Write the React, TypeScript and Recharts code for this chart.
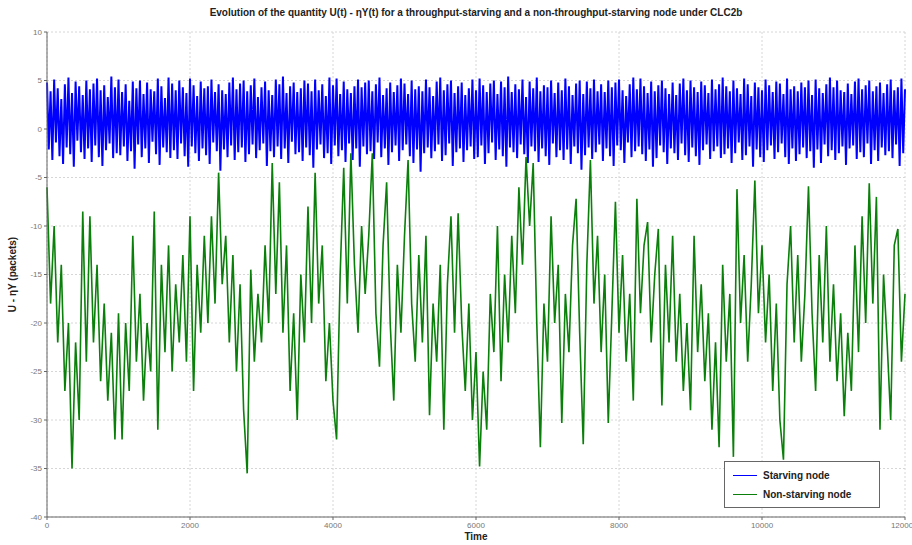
import React from 'react';
import { LineChart, Line, XAxis, YAxis, CartesianGrid } from 'recharts';

const starvingStep = 25;
const starving = [
  4.8, -2.1, 3.9, -3.2, 5.1, -1.4, 4.2, -2.8, 3.1, -3.6,
  4.6, -1.9, 5.3, -2.6, 3.7, -3.9, 4.9, -1.2, 4.4, -2.4,
  3.5, -3.1, 5.0, -2.0, 4.1, -3.4, 4.7, -1.7, 5.2, -2.9,
  4.0, -3.8, 4.5, -2.2, 3.3, -1.5, 5.4, -3.0, 4.3, -2.5,
  5.1, -2.7, 3.8, -1.8, 4.6, -3.3, 2.9, -2.3, 4.9, -4.1,
  4.2, -1.6, 5.0, -2.9, 3.6, -2.0, 4.8, -3.5, 4.1, -1.3,
  3.9, -2.6, 5.2, -3.7, 4.4, -1.9, 3.2, -2.4, 5.3, -3.0,
  4.7, -2.2, 4.0, -3.1, 5.0, -1.5, 4.3, -2.8, 3.7, -3.9,
  5.2, -1.8, 4.5, -2.5, 3.4, -3.3, 4.9, -2.0, 4.2, -2.7,
  4.4, -3.6, 5.1, -1.4, 3.8, -2.3, 4.6, -4.3, 4.0, -2.1,
  3.6, -2.9, 4.8, -1.7, 5.3, -3.2, 4.1, -2.4, 4.7, -1.9,
  5.0, -3.4, 3.9, -2.6, 4.5, -1.6, 5.2, -3.0, 3.3, -2.2,
  4.3, -1.5, 4.9, -3.8, 4.0, -2.3, 3.5, -2.9, 5.1, -1.8,
  4.6, -3.1, 5.4, -2.0, 3.7, -3.5, 4.4, -1.3, 4.8, -2.6,
  3.8, -2.4, 4.2, -3.3, 5.0, -1.9, 4.7, -2.7, 3.9, -4.0,
  5.1, -2.1, 4.0, -1.6, 4.6, -3.0, 3.4, -2.5, 5.3, -3.6,
  4.5, -1.7, 5.2, -2.8, 3.6, -2.2, 4.9, -3.4, 4.1, -1.5,
  3.7, -3.2, 4.4, -2.0, 5.1, -3.9, 4.3, -1.8, 4.8, -2.6,
  5.0, -2.3, 3.9, -3.1, 4.6, -1.4, 5.3, -2.9, 3.5, -2.0,
  4.2, -3.7, 4.8, -2.4, 3.8, -1.7, 4.5, -3.3, 5.2, -2.2,
  4.7, -1.6, 3.6, -2.8, 5.0, -3.5, 4.1, -2.1, 4.4, -4.4,
  3.9, -2.5, 5.1, -1.9, 4.3, -3.0, 3.4, -2.3, 4.9, -1.6,
  5.3, -3.3, 4.0, -2.7, 4.6, -1.5, 5.0, -3.8, 3.7, -2.4,
  4.4, -2.0, 4.8, -3.4, 3.5, -2.2, 4.2, -1.8, 5.1, -3.1,
  4.0, -2.9, 5.2, -1.7, 4.5, -3.6, 3.8, -2.5, 4.7, -1.4,
  5.0, -3.2, 3.6, -2.1, 4.9, -2.8, 4.3, -3.9, 5.4, -1.9,
  3.8, -2.4, 4.6, -3.0, 4.1, -1.6, 5.1, -2.6, 3.3, -3.5,
  4.9, -1.8, 4.2, -2.3, 5.3, -3.4, 3.9, -2.0, 4.5, -2.8,
  4.3, -3.7, 5.0, -1.5, 3.7, -2.9, 4.8, -2.2, 4.0, -3.2,
  5.2, -2.1, 4.4, -3.6, 3.5, -1.8, 4.7, -2.5, 5.0, -4.2,
  3.6, -2.7, 4.9, -1.9, 4.2, -3.1, 5.1, -2.4, 3.9, -1.6,
  4.6, -3.3, 3.8, -2.0, 5.0, -2.8, 4.3, -3.8, 4.8, -1.7,
  5.1, -2.2, 4.0, -3.5, 3.4, -1.4, 4.6, -2.9, 5.3, -2.3,
  4.1, -1.8, 5.2, -2.6, 4.4, -3.3, 3.7, -2.1, 4.9, -3.9,
  3.9, -3.0, 4.5, -1.7, 5.0, -2.4, 4.2, -3.6, 3.6, -2.0,
  4.8, -2.5, 3.5, -3.2, 4.7, -1.5, 5.2, -2.7, 4.0, -3.4,
  5.0, -1.9, 4.3, -2.8, 3.8, -3.7, 4.9, -2.2, 4.5, -1.6,
  3.7, -3.1, 5.1, -2.3, 4.1, -1.8, 4.6, -3.0, 5.3, -2.6,
  4.4, -2.0, 3.9, -3.5, 5.0, -2.5, 4.2, -1.4, 3.6, -3.2,
  5.2, -2.7, 4.6, -1.8, 3.4, -3.9, 4.8, -2.1, 4.3, -2.9,
  4.0, -3.4, 5.1, -2.2, 4.5, -1.7, 3.8, -3.1, 4.9, -2.4,
  4.7, -1.5, 3.6, -2.9, 5.2, -3.6, 4.1, -2.0, 4.4, -3.3,
  3.9, -2.6, 4.8, -1.9, 4.3, -3.0, 5.0, -2.3, 3.5, -4.0,
  5.1, -2.1, 4.2, -3.5, 3.7, -1.6, 4.6, -2.8, 5.3, -2.2,
  4.3, -3.2, 5.0, -2.5, 4.0, -1.8, 3.8, -3.7, 4.7, -2.0,
  3.6, -1.7, 4.9, -3.1, 5.2, -2.4, 4.1, -2.9, 4.5, -1.5,
  5.0, -3.6, 3.9, -2.2, 4.4, -3.3, 4.8, -1.9, 3.7, -2.7,
  4.6, -2.3, 5.1, -3.0, 4.0, -1.6, 4.3, -3.8, 5.2, -2.5,
  4.1,
];

const nonStarvingStep = 50;
const nonStarving = [
  -6, -18, -10, -22, -14, -27, -20, -35, -22, -30,
  -8.5, -24, -9, -22, -14, -26, -18, -28, -21, -32,
  -19, -32, -20, -27, -11, -24, -17, -28, -20, -25,
  -8.5, -31, -14, -23, -12, -25, -16, -22, -13, -24,
  -9, -27, -14, -21, -11, -20, -9, -18, -4.5, -16,
  -11, -22, -13, -25, -16, -29, -35.5, -14.5, -24, -17,
  -22, -12, -20, -3.5, -17, -5.5, -21, -12, -27, -19,
  -30, -15, -22, -8, -20, -4.5, -18, -12, -26, -20,
  -28, -32, -15, -4, -18, -2.5, -14, -21, -10, -17,
  -11, -2.5, -19, -24.5, -12, -5.5, -20, -28, -14, -21,
  -11, -3.2, -18, -24, -13, -22, -11, -29.5, -18, -24,
  -14, -31, -16, -9, -21, -8.7, -20, -27, -18, -30,
  -23, -34.8, -25, -31, -17, -23, -10, -26, -15, -22,
  -11, -19, -6, -14, -2.9, -10, -3.5, -20, -32.8, -18,
  -24, -9, -20, -14, -30.3, -17, -23, -12, -7.2, -21,
  -32.5, -14, -3.2, -18, -11, -23, -15, -30.3, -19, -7.5,
  -21, -13, -24, -17, -28, -7.2, -19, -12, -9.6, -22,
  -15, -10.3, -28.5, -14, -22, -11, -24, -17, -27, -20,
  -29, -11, -23, -16, -26, -19, -31, -22, -32.8, -14,
  -24, -17, -33.8, -6.2, -20, -13, -24, -16, -5.3, -19,
  -12, -22, -15, -27, -18, -30, -34.1, -16, -10, -22,
  -13, -24, -17, -5.9, -19, -27, -13, -22, -10, -24,
  -16, -26, -19, -29.6, -21, -27, -12, -23, -9, -20,
  -5.6, -18, -7, -31, -15, -22, -30, -12, -10.3, -24,
  -17,
];

const timeTicks = [0, 2000, 4000, 6000, 8000, 10000, 12000];
const valueTicks = [-40, -35, -30, -25, -20, -15, -10, -5, 0, 5, 10];

const starvingData = starving.map((v, i) => ({ t: i * starvingStep, v }));
const nonStarvingData = nonStarving.map((v, i) => ({ t: i * nonStarvingStep, v }));

const BLUE = '#0000ff';
const GREEN = '#0a7f0a';
const FONT = '"Liberation Sans", Arial, sans-serif';
const tickStyle = { fontSize: 8, fill: '#777', fontFamily: FONT };

const App: React.FC = () => {
  return (
    <div style={{ position: 'absolute', left: 0, top: 0, width: 912, height: 545, background: '#fff', fontFamily: FONT }}>
      <div
        style={{
          position: 'absolute',
          left: 47,
          width: 858,
          top: 7,
          textAlign: 'center',
          fontSize: 10,
          fontWeight: 'bold',
          color: '#222',
        }}
      >
        Evolution of the quantity U(t) - ηY(t) for a throughput-starving and a non-throughput-starving node under CLC2b
      </div>

      <LineChart width={912} height={545} margin={{ top: 32, right: 7, bottom: 0, left: 0 }}>
        <CartesianGrid stroke="#d6d6d6" strokeDasharray="2 2" horizontalValues={valueTicks} verticalValues={timeTicks} />
        <XAxis
          dataKey="t"
          type="number"
          domain={[0, 12000]}
          ticks={timeTicks}
          allowDuplicatedCategory={false}
          stroke="#666"
          tick={tickStyle}
          tickSize={3}
          height={28}
          label={{ value: 'Time', position: 'insideBottom', offset: 5, style: { fontSize: 10, fontWeight: 'bold', fill: '#222', fontFamily: FONT } }}
        />
        <XAxis xAxisId="top" orientation="top" type="number" domain={[0, 12000]} ticks={timeTicks} tick={false} stroke="#666" height={0} />
        <YAxis
          type="number"
          domain={[-40, 10]}
          ticks={valueTicks}
          stroke="#666"
          tick={tickStyle}
          tickSize={3}
          width={47}
          label={{ value: 'U - ηY (packets)', angle: -90, position: 'insideLeft', offset: 12, style: { textAnchor: 'middle', fontSize: 10, fontWeight: 'bold', fill: '#222', fontFamily: FONT } }}
        />
        <YAxis yAxisId="right" orientation="right" type="number" domain={[-40, 10]} ticks={valueTicks} tick={false} stroke="#666" width={0} />
        <Line
          data={starvingData}
          dataKey="v"
          name="Starving node"
          stroke={BLUE}
          strokeWidth={2}
          dot={false}
          activeDot={false}
          isAnimationActive={false}
        />
        <Line
          data={nonStarvingData}
          dataKey="v"
          name="Non-starving node"
          stroke={GREEN}
          strokeWidth={1.6}
          dot={false}
          activeDot={false}
          isAnimationActive={false}
        />
      </LineChart>

      <div
        style={{
          position: 'absolute',
          left: 724,
          top: 461,
          width: 156,
          height: 47,
          border: '1px solid #666',
          background: '#fff',
          fontSize: 10,
          lineHeight: '12px',
          fontWeight: 'bold',
          color: '#222',
          boxSizing: 'border-box',
          padding: '4px 0 0 0',
        }}
      >
        {[
          { label: 'Starving node', color: BLUE },
          { label: 'Non-starving node', color: GREEN },
        ].map((item) => (
          <div key={item.label} style={{ display: 'flex', alignItems: 'center', height: 19 }}>
            <span style={{ display: 'inline-block', width: 24, height: 1, marginLeft: 8, marginRight: 6, background: item.color }} />
            {item.label}
          </div>
        ))}
      </div>
    </div>
  );
};

export default App;
